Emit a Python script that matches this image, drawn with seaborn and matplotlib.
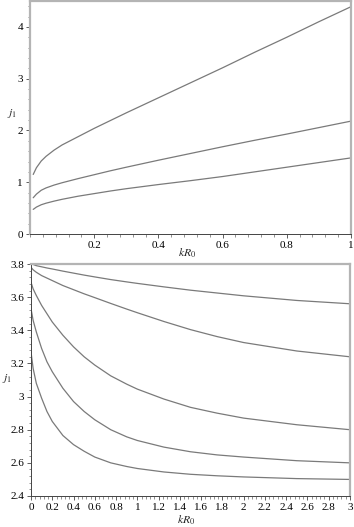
import seaborn as sns
import matplotlib.pyplot as plt
import pandas as pd
from matplotlib.ticker import AutoMinorLocator

# top panel: j1 vs kR0 for small kR0
x_top = [0.01, 0.02, 0.035, 0.05, 0.075, 0.1, 0.15, 0.2, 0.25, 0.3,
         0.4, 0.5, 0.6, 0.7, 0.8, 0.9, 1.0]
top_1 = [1.15, 1.28, 1.41, 1.50, 1.62, 1.72, 1.88, 2.04, 2.19, 2.34,
         2.63, 2.92, 3.21, 3.51, 3.80, 4.10, 4.39]
top_2 = [0.70, 0.77, 0.845, 0.89, 0.945, 0.99, 1.07, 1.145, 1.22, 1.29,
         1.425, 1.555, 1.685, 1.81, 1.93, 2.055, 2.18]
top_3 = [0.475, 0.52, 0.565, 0.595, 0.635, 0.67, 0.73, 0.78, 0.83, 0.875,
         0.955, 1.03, 1.11, 1.20, 1.29, 1.38, 1.47]

# bottom panel: j1 vs kR0 up to 3
x_bot = [0, 0.02, 0.05, 0.1, 0.15, 0.2, 0.3, 0.4, 0.5, 0.6, 0.75, 0.9,
         1.0, 1.25, 1.5, 1.75, 2.0, 2.5, 3.0]
bot_a = [3.80, 3.797, 3.79, 3.783, 3.776, 3.77, 3.757, 3.745, 3.733, 3.722,
         3.706, 3.692, 3.683, 3.662, 3.642, 3.625, 3.608, 3.58, 3.56]
bot_b = [3.78, 3.765, 3.75, 3.73, 3.715, 3.70, 3.67, 3.645, 3.62, 3.597,
         3.562, 3.528, 3.506, 3.453, 3.404, 3.362, 3.326, 3.275, 3.24]
bot_c = [3.69, 3.65, 3.61, 3.55, 3.50, 3.45, 3.37, 3.30, 3.24, 3.19,
         3.125, 3.075, 3.045, 2.985, 2.935, 2.90, 2.87, 2.83, 2.80]
bot_d = [3.53, 3.46, 3.39, 3.29, 3.21, 3.15, 3.05, 2.97, 2.91, 2.86,
         2.80, 2.757, 2.735, 2.695, 2.667, 2.648, 2.635, 2.613, 2.60]
bot_e = [3.27, 3.17, 3.08, 2.99, 2.91, 2.85, 2.765, 2.71, 2.67, 2.635,
         2.60, 2.578, 2.566, 2.545, 2.531, 2.522, 2.515, 2.505, 2.50]

df_top = pd.concat([pd.DataFrame({'x': x_top, 'j': v, 'c': n})
                    for n, v in [('1', top_1), ('2', top_2), ('3', top_3)]])
df_bot = pd.concat([pd.DataFrame({'x': x_bot, 'j': v, 'c': n})
                    for n, v in [('a', bot_a), ('b', bot_b), ('c', bot_c),
                                 ('d', bot_d), ('e', bot_e)]])

sns.set_style("ticks")
plt.rcParams['font.family'] = ['Liberation Serif', 'DejaVu Serif']
plt.rcParams['mathtext.fontset'] = 'stix'

line_col = '#7a7a7a'
frame_col = '#b4b4b4'

fig = plt.figure(figsize=(3.54, 5.27), dpi=100)
ax1 = fig.add_axes([30/354, 293/527, 321/354, 233/527])
ax2 = fig.add_axes([31/354, 31/527, 319/354, 232/527])

sns.lineplot(data=df_top, x='x', y='j', hue='c', palette=[line_col]*3,
             legend=False, linewidth=0.9, ax=ax1)
sns.lineplot(data=df_bot, x='x', y='j', hue='c', palette=[line_col]*5,
             legend=False, linewidth=0.9, ax=ax2)

ax1.set_xlim(0, 1)
ax1.set_ylim(0, 4.5)
ax1.set_xticks([0.2, 0.4, 0.6, 0.8, 1.0])
ax1.set_xticklabels(['0.2', '0.4', '0.6', '0.8', '1'])
ax1.set_yticks([0, 1, 2, 3, 4])
ax1.set_yticklabels(['0', '1', '2', '3', '4'])

ax2.set_xlim(0, 3)
ax2.set_ylim(2.4, 3.8)
xt = [i * 0.2 for i in range(16)]
ax2.set_xticks(xt)
ax2.set_xticklabels([('%g' % round(v, 1)) for v in xt])
yt = [2.4 + i * 0.2 for i in range(8)]
ax2.set_yticks(yt)
ax2.set_yticklabels([('%g' % round(v, 1)) for v in yt])

for ax in (ax1, ax2):
    ax.xaxis.set_minor_locator(AutoMinorLocator(5))
    ax.yaxis.set_minor_locator(AutoMinorLocator(5))
    ax.tick_params(which='major', length=3, width=0.6, color='#444444',
                   labelsize=8, pad=2, labelcolor='black')
    ax.tick_params(which='minor', length=1.8, width=0.5, color='#666666')
    for s in ('top', 'right'):
        ax.spines[s].set_visible(True)
        ax.spines[s].set_color(frame_col)
        ax.spines[s].set_linewidth(1.6)
    ax.spines['bottom'].set_color('#444444')
    ax.spines['bottom'].set_linewidth(0.7)
    ax.spines['left'].set_color('#444444')
    ax.spines['left'].set_linewidth(0.7)
    ax.set_xlabel('$kR_0$', fontsize=8.5)
    ax.set_ylabel('$j_1$', fontsize=8.5, rotation=0)

ax1.spines['left'].set_color(frame_col)
ax1.spines['left'].set_linewidth(1.6)

ax1.xaxis.set_label_coords(0.49, -0.055)
ax1.yaxis.set_label_coords(-0.055, 0.49)
ax2.xaxis.set_label_coords(0.485, -0.075)
ax2.yaxis.set_label_coords(-0.075, 0.48)

fig.savefig('out.png', dpi=100)
